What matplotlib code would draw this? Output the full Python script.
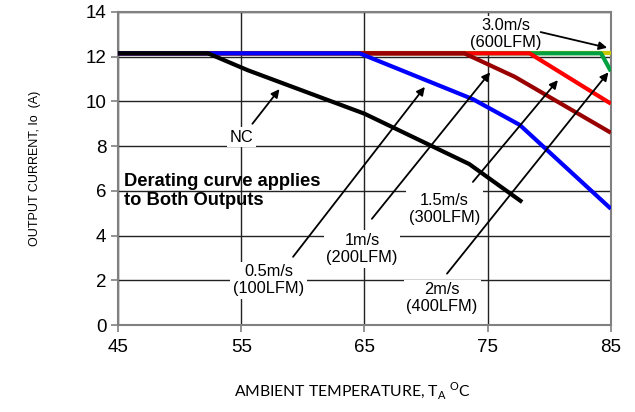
import numpy as np
import matplotlib.pyplot as plt

# ---- Datos ----
t_nc = [45, 52.3, 55.5, 65, 73.5, 77.8]
i_nc = [12.15, 12.15, 11.4, 9.45, 7.2, 5.5]

t_05 = [45, 64.6, 73.8, 77.6, 85]
i_05 = [12.15, 12.15, 10.1, 8.95, 5.2]

t_1 = [45, 73.1, 77.2, 85]
i_1 = [12.15, 12.15, 11.1, 8.6]

t_15 = [45, 78.4, 85]
i_15 = [12.15, 12.15, 9.9]

t_2 = [45, 84.2, 85]
i_2 = [12.15, 12.15, 11.35]

t_3 = [45, 85]
i_3 = [12.15, 12.15]

x_ticks = [45, 55, 65, 75, 85]
y_ticks = [0, 2, 4, 6, 8, 10, 12, 14]

plt.rcParams['font.family'] = ['Liberation Sans', 'DejaVu Sans']

fig = plt.figure(figsize=(6.35, 4.12), dpi=100)
ax = fig.add_axes([0.186, 0.211, 0.776, 0.760])

# curvas: la de menor flujo encima
ax.plot(t_3, i_3, color='#C8C800', lw=3, zorder=4, solid_capstyle='butt')
ax.plot(t_2, i_2, color='#00A040', lw=3, zorder=5, solid_capstyle='butt')
ax.plot(t_15, i_15, color='#FF0000', lw=3, zorder=6, solid_capstyle='butt')
ax.plot(t_1, i_1, color='#990000', lw=3, zorder=7, solid_capstyle='butt')
ax.plot(t_05, i_05, color='#0000FF', lw=3, zorder=8, solid_capstyle='butt')
ax.plot(t_nc, i_nc, color='black', lw=3, zorder=9, solid_capstyle='butt')

ax.set_xlim(45, 85)
ax.set_ylim(0, 14)
ax.set_xticks(x_ticks)
ax.set_yticks(y_ticks)
ax.tick_params(labelsize=13.5, color='#808080', length=5, width=1.2)
ax.tick_params(axis='x', pad=5)
ax.grid(True, color='#222222', lw=1)
ax.set_axisbelow(True)
for s in ax.spines.values():
    s.set_color('#808080')
    s.set_linewidth(1.5)

ax.set_ylabel('OUTPUT CURRENT, Io  (A)', fontsize=9, labelpad=32)
fig.text(0.555, 0.052, 'AMBIENT TEMPERATURE, T$_\\mathregular{A}$ $^\\mathregular{O}$C',
         ha='center', va='center', fontsize=11.3, family=['Lato', 'DejaVu Sans'])

box = dict(facecolor='white', edgecolor='none', pad=2)
arr = dict(arrowstyle='-|>', color='black', lw=1.3, mutation_scale=12, shrinkA=0, shrinkB=0)

etiquetas = [
    ('NC', 55.0, 8.4, (55.9, 9.0), (58.1, 10.55)),
    ('3.0m/s\n(600LFM)', 76.5, 13.0, (79.3, 13.1), (84.7, 12.4)),
    ('0.5m/s\n(100LFM)', 57.2, 2.0, (59.2, 3.05), (69.9, 10.65)),
    ('1m/s\n(200LFM)', 64.8, 3.4, (65.6, 4.75), (75.2, 11.3)),
    ('1.5m/s\n(300LFM)', 71.5, 5.2, (73.8, 6.4), (80.7, 10.95)),
    ('2m/s\n(400LFM)', 71.3, 1.2, (71.7, 2.3), (84.8, 11.3)),
]
for txt, tx, ty, p0, p1 in etiquetas:
    ax.text(tx, ty, txt, ha='center', va='center', fontsize=11.8,
            linespacing=1.15, bbox=box, zorder=3)
    ax.annotate('', xy=p1, xytext=p0, arrowprops=arr, zorder=10)

ax.text(45.5, 6.0, 'Derating curve applies\nto Both Outputs', ha='left', va='center',
        fontsize=13.2, fontweight='bold', linespacing=1.12, zorder=3)

fig.savefig('out.png', dpi=100)
